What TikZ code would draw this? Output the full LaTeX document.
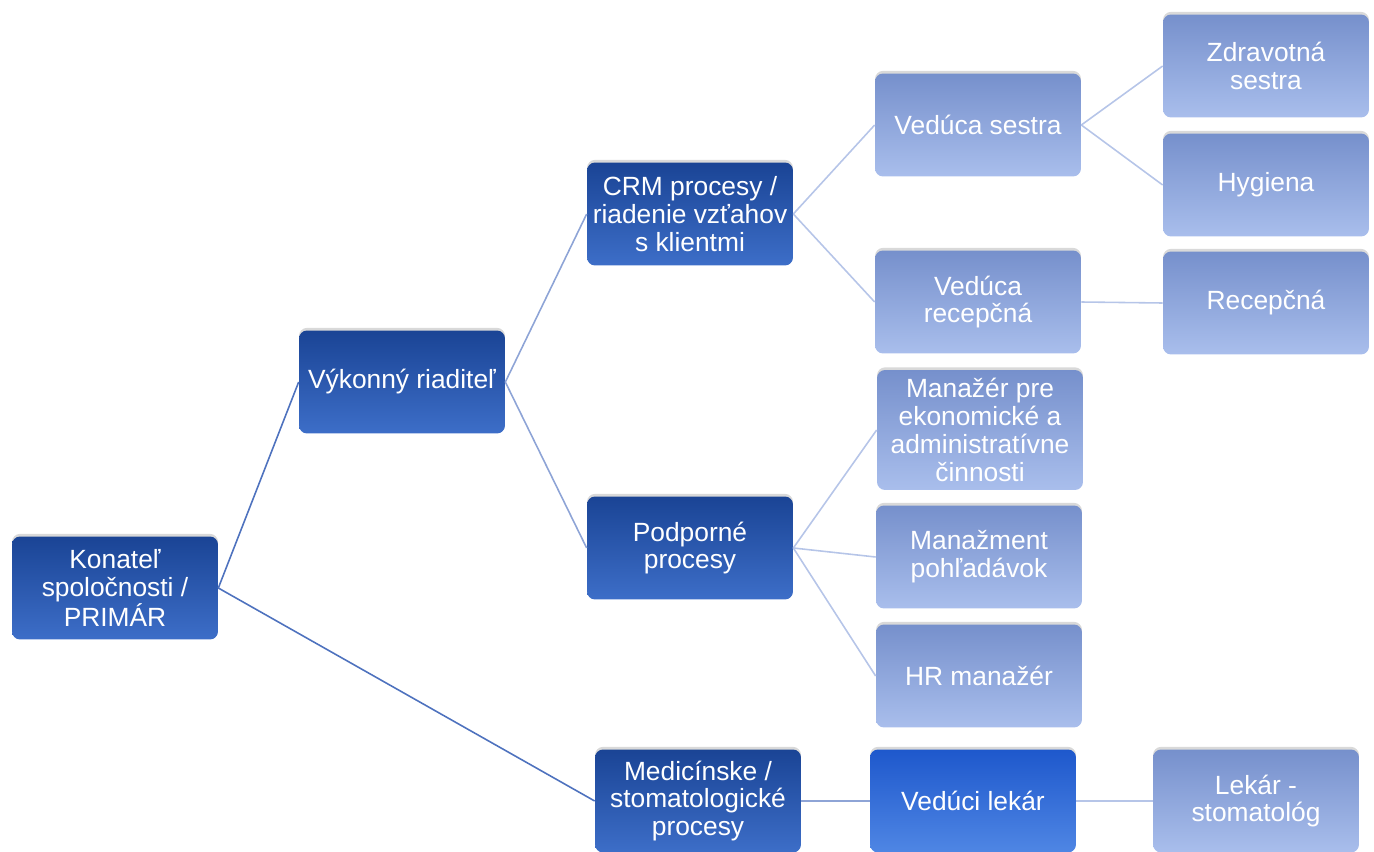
\documentclass[tikz,border=0pt]{standalone}
\usepackage{fontspec}
\setmainfont{Liberation Sans}
\usepackage{xcolor}
\usetikzlibrary{shadows}
\definecolor{dkTop}{HTML}{1A4495}
\definecolor{dkBot}{HTML}{3D6EC8}
\definecolor{brTop}{HTML}{1E58CC}
\definecolor{brBot}{HTML}{4F86E4}
\definecolor{ltTop}{HTML}{7690CC}
\definecolor{ltBot}{HTML}{A9BEEC}
\definecolor{lnA}{HTML}{4E72BE}
\definecolor{lnB}{HTML}{8EA4D6}
\definecolor{lnC}{HTML}{B6C5E8}
\tikzset{box/.style={text=white,rounded corners=0.16cm,minimum width=4.12cm,minimum height=2.06cm,align=center,inner sep=1pt,font=\fontsize{15}{15.9}\selectfont,drop shadow={shadow xshift=0pt,shadow yshift=1.5pt,opacity=0.3}}}
\tikzset{dark/.style={box,top color=dkTop,bottom color=dkBot}}
\tikzset{bright/.style={box,top color=brTop,bottom color=brBot}}
\tikzset{light/.style={box,top color=ltTop,bottom color=ltBot}}
\tikzset{lnA/.style={draw=lnA,line width=0.9pt}}
\tikzset{lnB/.style={draw=lnB,line width=0.9pt}}
\tikzset{lnC/.style={draw=lnC,line width=0.9pt}}

\begin{document}
\begin{tikzpicture}[x=0.02cm,y=-0.02cm]
    \useasboundingbox (0,0) rectangle (1374,852);

    \node[dark] (konatel) at (115, 588) {Konateľ\\spoločnosti /\\PRIMÁR};
    \node[dark] (vykonny) at (402, 382) {Výkonný riaditeľ};
    \node[dark] (crm) at (690, 214) {CRM procesy /\\riadenie vzťahov\\s klientmi};
    \node[dark] (podpora) at (690, 548) {Podporné\\procesy};
    \node[dark] (medic) at (698, 801) {Medicínske /\\stomatologické\\procesy};
    \node[light] (vsestra) at (978, 125) {Vedúca sestra};
    \node[light] (vrecep) at (978, 302) {Vedúca\\recepčná};
    \node[light,minimum height=2.4cm] (ekon) at (980, 430) {Manažér pre\\ekonomické a\\administratívne\\činnosti};
    \node[light] (pohl) at (979, 557) {Manažment\\pohľadávok};
    \node[light] (hr) at (979, 676) {HR manažér};
    \node[bright] (vlekar) at (973, 801) {Vedúci lekár};
    \node[light] (zsestra) at (1266, 66) {Zdravotná\\sestra};
    \node[light] (hyg) at (1266, 185) {Hygiena};
    \node[light] (recep) at (1266, 303) {Recepčná};
    \node[light] (lekar) at (1256, 801) {Lekár -\\stomatológ};

    \draw[lnA] (konatel.east) to (vykonny.west);
    \draw[lnA] (konatel.east) to (medic.west);
    \draw[lnB] (vykonny.east) to (crm.west);
    \draw[lnB] (vykonny.east) to (podpora.west);
    \draw[lnB] (medic.east) to (vlekar.west);
    \draw[lnC] (crm.east) to (vsestra.west);
    \draw[lnC] (crm.east) to (vrecep.west);
    \draw[lnC] (podpora.east) to (ekon.west);
    \draw[lnC] (podpora.east) to (pohl.west);
    \draw[lnC] (podpora.east) to (hr.west);
    \draw[lnC] (vsestra.east) to (zsestra.west);
    \draw[lnC] (vsestra.east) to (hyg.west);
    \draw[lnC] (vrecep.east) to (recep.west);
    \draw[lnC] (vlekar.east) to (lekar.west);
\end{tikzpicture}
\end{document}
